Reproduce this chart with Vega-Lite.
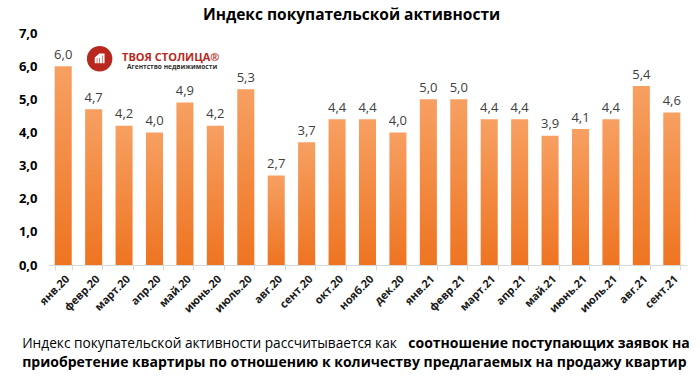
{
  "$schema": "https://vega.github.io/schema/vega-lite/v6.json",
  "autosize": {"type": "none"},
  "width": 639,
  "height": 232,
  "padding": {"left": 48, "top": 33, "right": 13, "bottom": 113},
  "background": "white",
  "config": {
    "locale": {"number": {"decimal": ",", "thousands": " ", "grouping": [3], "currency": ["", " ₽"]}},
    "view": {"stroke": null},
    "font": "Open Sans",
    "axisX": {
      "labelAngle": -45,
      "labelFont": "Open Sans",
      "labelFontWeight": "bold",
      "labelFontSize": 11,
      "labelColor": "#1a1a1a",
      "labelPadding": 3,
      "tickBand": "extent",
      "tickColor": "#d9d9d9",
      "tickSize": 5,
      "domainColor": "#d9d9d9",
      "grid": false
    },
    "axisY": {
      "labelFont": "Open Sans",
      "labelFontWeight": "bold",
      "labelFontSize": 13,
      "labelColor": "#000000",
      "labelPadding": 11,
      "ticks": false,
      "domain": false,
      "grid": false
    }
  },
  "title": {
    "text": "Индекс покупательской активности",
    "font": "Open Sans",
    "fontSize": 15.5,
    "fontWeight": "bold",
    "color": "#000000",
    "anchor": "middle",
    "frame": "group",
    "offset": 4,
    "dx": -16
  },
  "datasets": {
    "index": [
      {"month": "янв.20", "value": 6.0},
      {"month": "февр.20", "value": 4.7},
      {"month": "март.20", "value": 4.2},
      {"month": "апр.20", "value": 4.0},
      {"month": "май.20", "value": 4.9},
      {"month": "июнь.20", "value": 4.2},
      {"month": "июль.20", "value": 5.3},
      {"month": "авг.20", "value": 2.7},
      {"month": "сент.20", "value": 3.7},
      {"month": "окт.20", "value": 4.4},
      {"month": "нояб.20", "value": 4.4},
      {"month": "дек.20", "value": 4.0},
      {"month": "янв.21", "value": 5.0},
      {"month": "февр.21", "value": 5.0},
      {"month": "март.21", "value": 4.4},
      {"month": "апр.21", "value": 4.4},
      {"month": "май.21", "value": 3.9},
      {"month": "июнь.21", "value": 4.1},
      {"month": "июль.21", "value": 4.4},
      {"month": "авг.21", "value": 5.4},
      {"month": "сент.21", "value": 4.6}
    ],
    "logo": [{"t": "ТВОЯ СТОЛИЦА®", "sub": "Агентство недвижимости"}],
    "note": [
      {"a": "Индекс покупательской активности рассчитывается как", "b": "соотношение поступающих заявок на", "c": "приобретение квартиры по отношению к количеству предлагаемых на продажу квартир"}
    ]
  },
  "data": {"name": "index"},
  "layer": [
    {
      "mark": {
        "type": "bar",
        "color": {
          "gradient": "linear",
          "x1": 0, "y1": 0, "x2": 0, "y2": 1,
          "stops": [
            {"offset": 0, "color": "#F7A062"},
            {"offset": 1, "color": "#EE7421"}
          ]
        }
      },
      "encoding": {
        "x": {
          "field": "month",
          "type": "ordinal",
          "sort": null,
          "scale": {"paddingInner": 0.44, "paddingOuter": 0.22},
          "axis": {"title": null}
        },
        "y": {
          "field": "value",
          "type": "quantitative",
          "scale": {"domain": [0, 7], "nice": false, "zero": true},
          "axis": {"title": null, "values": [0, 1, 2, 3, 4, 5, 6, 7], "format": ".1f"}
        }
      }
    },
    {
      "mark": {"type": "text", "baseline": "alphabetic", "dy": -7.5, "fontSize": 13, "color": "#404040", "font": "Open Sans"},
      "encoding": {
        "x": {"field": "month", "type": "ordinal", "sort": null, "axis": {"title": null}},
        "y": {"field": "value", "type": "quantitative", "axis": {"title": null, "values": [0, 1, 2, 3, 4, 5, 6, 7], "format": ".1f"}},
        "text": {"field": "value", "type": "quantitative", "format": ".1f"}
      }
    },
    {
      "data": {"name": "logo"},
      "mark": {"type": "point", "shape": "circle", "filled": true, "size": 650, "color": "#B8281E", "opacity": 1, "xOffset": 6},
      "encoding": {
        "x": {"datum": "февр.20", "type": "ordinal", "axis": {"title": null}},
        "y": {"datum": 6.22, "type": "quantitative", "axis": {"title": null, "values": [0, 1, 2, 3, 4, 5, 6, 7], "format": ".1f"}}
      }
    },
    {
      "data": {"name": "logo"},
      "mark": {"type": "point", "shape": "M-0.45,0.5L-0.45,-0.1L0,-0.5L0.45,-0.5L0.45,0.5M-0.15,0.5L-0.15,-0.15L0.15,-0.3L0.15,0.5", "filled": false, "size": 300, "stroke": "white", "strokeWidth": 2, "opacity": 1, "xOffset": 6},
      "encoding": {
        "x": {"datum": "февр.20", "type": "ordinal", "axis": {"title": null}},
        "y": {"datum": 6.22, "type": "quantitative", "axis": {"title": null, "values": [0, 1, 2, 3, 4, 5, 6, 7], "format": ".1f"}}
      }
    },
    {
      "data": {"name": "logo"},
      "mark": {"type": "text", "align": "left", "baseline": "alphabetic", "dx": -2, "fontSize": 11, "fontWeight": "bold", "color": "#B8281E", "font": "Open Sans"},
      "encoding": {
        "x": {"datum": "март.20", "type": "ordinal", "axis": {"title": null}},
        "y": {"datum": 6.156, "type": "quantitative", "axis": {"title": null, "values": [0, 1, 2, 3, 4, 5, 6, 7], "format": ".1f"}},
        "text": {"field": "t", "type": "nominal"}
      }
    },
    {
      "data": {"name": "logo"},
      "mark": {"type": "text", "align": "left", "baseline": "alphabetic", "dx": 3, "fontSize": 6.6, "fontWeight": "bold", "color": "#333333", "font": "Open Sans"},
      "encoding": {
        "x": {"datum": "март.20", "type": "ordinal", "axis": {"title": null}},
        "y": {"datum": 5.914, "type": "quantitative", "axis": {"title": null, "values": [0, 1, 2, 3, 4, 5, 6, 7], "format": ".1f"}},
        "text": {"field": "sub", "type": "nominal"}
      }
    },
    {
      "data": {"name": "note"},
      "mark": {"type": "text", "align": "left", "baseline": "alphabetic", "dx": -41, "fontSize": 13.7, "color": "#000000", "font": "Open Sans"},
      "encoding": {
        "x": {"datum": "янв.20", "type": "ordinal", "axis": {"title": null}},
        "y": {"datum": -2.5, "type": "quantitative", "axis": {"title": null, "values": [0, 1, 2, 3, 4, 5, 6, 7], "format": ".1f"}},
        "text": {"field": "a", "type": "nominal"}
      }
    },
    {
      "data": {"name": "note"},
      "mark": {"type": "text", "align": "right", "baseline": "alphabetic", "dx": 18, "fontSize": 14, "fontWeight": "bold", "color": "#000000", "font": "Open Sans"},
      "encoding": {
        "x": {"datum": "сент.21", "type": "ordinal", "axis": {"title": null}},
        "y": {"datum": -2.5, "type": "quantitative", "axis": {"title": null, "values": [0, 1, 2, 3, 4, 5, 6, 7], "format": ".1f"}},
        "text": {"field": "b", "type": "nominal"}
      }
    },
    {
      "data": {"name": "note"},
      "mark": {"type": "text", "align": "left", "baseline": "alphabetic", "dx": -41, "fontSize": 14, "fontWeight": "bold", "color": "#000000", "font": "Open Sans"},
      "encoding": {
        "x": {"datum": "янв.20", "type": "ordinal", "axis": {"title": null}},
        "y": {"datum": -3.07, "type": "quantitative", "axis": {"title": null, "values": [0, 1, 2, 3, 4, 5, 6, 7], "format": ".1f"}},
        "text": {"field": "c", "type": "nominal"}
      }
    }
  ]
}
